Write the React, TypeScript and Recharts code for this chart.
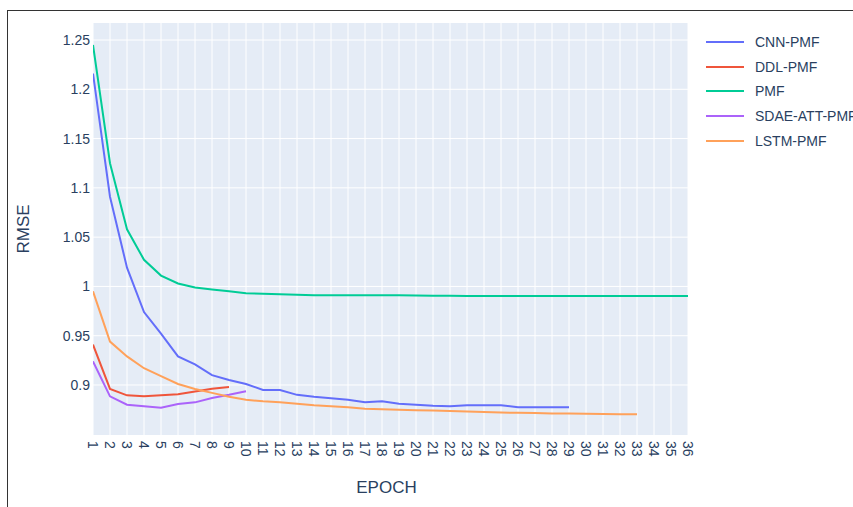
import React from 'react';
import { LineChart, Line, XAxis, YAxis, CartesianGrid, Label } from 'recharts';

const epochs = [1, 2, 3, 4, 5, 6, 7, 8, 9, 10, 11, 12, 13, 14, 15, 16, 17, 18, 19, 20, 21, 22, 23, 24, 25, 26, 27, 28, 29, 30, 31, 32, 33, 34, 35, 36];

const cnnPmf = [1.216, 1.091, 1.019, 0.974, 0.952, 0.929, 0.921, 0.910, 0.905, 0.901, 0.895, 0.895, 0.890, 0.888, 0.8865, 0.885, 0.8825, 0.8835, 0.881, 0.880, 0.879, 0.8785, 0.8795, 0.8795, 0.8795, 0.8775, 0.8775, 0.8775, 0.8775];
const ddlPmf = [0.941, 0.896, 0.8895, 0.8885, 0.8895, 0.8905, 0.8935, 0.8963, 0.898];
const pmf = [1.245, 1.125, 1.058, 1.027, 1.011, 1.003, 0.999, 0.997, 0.995, 0.993, 0.9925, 0.992, 0.9915, 0.991, 0.991, 0.991, 0.991, 0.991, 0.991, 0.9908, 0.9906, 0.9905, 0.9903, 0.9903, 0.9903, 0.9903, 0.9903, 0.9903, 0.9903, 0.9903, 0.9903, 0.9903, 0.9903, 0.9903, 0.9903, 0.9903];
const sdaeAttPmf = [0.924, 0.8885, 0.880, 0.8785, 0.877, 0.8807, 0.8824, 0.8868, 0.890, 0.8936];
const lstmPmf = [0.995, 0.944, 0.929, 0.917, 0.909, 0.901, 0.896, 0.892, 0.888, 0.885, 0.8835, 0.8825, 0.881, 0.8795, 0.8785, 0.8775, 0.876, 0.8755, 0.875, 0.8745, 0.874, 0.8735, 0.873, 0.8725, 0.872, 0.8718, 0.8715, 0.8712, 0.871, 0.8708, 0.8706, 0.8704, 0.8703];

const yTicks = [0.9, 0.95, 1, 1.05, 1.1, 1.15, 1.2, 1.25];
const yTickLabels = ['0.9', '0.95', '1', '1.05', '1.1', '1.15', '1.2', '1.25'];

const seriesNames = ['CNN-PMF', 'DDL-PMF', 'PMF', 'SDAE-ATT-PMF', 'LSTM-PMF'];
const seriesKeys = ['cnn', 'ddl', 'pmf', 'sdae', 'lstm'];
const seriesValues = [cnnPmf, ddlPmf, pmf, sdaeAttPmf, lstmPmf];
const colors = ['#636efa', '#EF553B', '#00cc96', '#ab63fa', '#FFA15A'];

const data = epochs.map((e, i) => {
  const row: Record<string, number | undefined> = { epoch: e };
  seriesKeys.forEach((k, s) => {
    row[k] = seriesValues[s][i];
  });
  return row;
});

const FONT = '"Liberation Sans", Arial, Helvetica, sans-serif';
const TEXT_COLOR = '#2a3f5f';

const XTick = (props: any) => {
  const { x, y, payload } = props;
  return (
    <text
      x={x}
      y={y}
      transform={`rotate(90, ${x}, ${y})`}
      textAnchor="start"
      dominantBaseline="central"
      fontSize={14}
      fontFamily={FONT}
      fill={TEXT_COLOR}
    >
      {payload.value}
    </text>
  );
};

const YTick = (props: any) => {
  const { x, y, payload } = props;
  const idx = yTicks.indexOf(payload.value);
  return (
    <text
      x={x}
      y={y}
      textAnchor="end"
      dominantBaseline="central"
      fontSize={14}
      fontFamily={FONT}
      fill={TEXT_COLOR}
    >
      {idx >= 0 ? yTickLabels[idx] : String(payload.value)}
    </text>
  );
};

const YTitle = (props: any) => {
  const vb = props.viewBox || {};
  const cx = (vb.x || 0) + 23;
  const cy = (vb.y || 0) + (vb.height || 0) / 2;
  return (
    <text
      x={cx}
      y={cy}
      transform={`rotate(-90, ${cx}, ${cy})`}
      textAnchor="middle"
      dominantBaseline="central"
      fontSize={17}
      fontFamily={FONT}
      fill={TEXT_COLOR}
    >
      RMSE
    </text>
  );
};

const XTitle = (props: any) => {
  const vb = props.viewBox || {};
  const cx = (vb.x || 0) + (vb.width || 0) / 2 - 4;
  const cy = (vb.y || 0) + 52;
  return (
    <text
      x={cx}
      y={cy}
      textAnchor="middle"
      dominantBaseline="central"
      fontSize={17}
      fontFamily={FONT}
      fill={TEXT_COLOR}
    >
      EPOCH
    </text>
  );
};

export default function App() {
  return (
    <div
      style={{
        position: 'absolute',
        left: 0,
        top: 0,
        width: 853,
        height: 507,
        overflow: 'hidden',
        background: '#ffffff',
        fontFamily: FONT,
      }}
    >
      <div style={{ position: 'absolute', left: 7, top: 10, width: 846, height: 0, borderTop: '1.5px solid #333' }} />
      <div style={{ position: 'absolute', left: 7, top: 10, width: 0, height: 497, borderLeft: '1.5px solid #333' }} />
      <div style={{ position: 'absolute', left: 0, top: 0 }}>
        <LineChart
          width={853}
          height={507}
          data={data}
          margin={{ top: 23, right: 165, bottom: 0, left: 0 }}
        >
          <CartesianGrid
            fill="#E5ECF6"
            stroke="#ffffff"
            strokeWidth={1}
            horizontalValues={yTicks}
            verticalValues={epochs}
          />
          <XAxis
            dataKey="epoch"
            type="number"
            domain={[1, 36]}
            ticks={epochs}
            interval={0}
            allowDataOverflow
            height={72}
            axisLine={false}
            tickLine={false}
            tickSize={0}
            tickMargin={6}
            tick={<XTick />}
          >
            <Label content={<XTitle />} />
          </XAxis>
          <YAxis
            type="number"
            domain={[0.84927, 1.26725]}
            ticks={yTicks}
            interval={0}
            allowDataOverflow
            width={93}
            axisLine={false}
            tickLine={false}
            tickSize={0}
            tickMargin={3}
            tick={<YTick />}
          >
            <Label content={<YTitle />} />
          </YAxis>
          {seriesKeys.map((k, s) => (
            <Line
              key={k}
              dataKey={k}
              name={seriesNames[s]}
              type="linear"
              stroke={colors[s]}
              strokeWidth={2}
              dot={false}
              activeDot={false}
              isAnimationActive={false}
            />
          ))}
        </LineChart>
      </div>
      {seriesNames.map((n, s) => (
        <div
          key={n}
          style={{
            position: 'absolute',
            left: 706,
            top: 42 + s * 24.7 - 10,
            height: 20,
            display: 'flex',
            alignItems: 'center',
            whiteSpace: 'nowrap',
          }}
        >
          <div style={{ width: 38, height: 2, background: colors[s] }} />
          <span style={{ marginLeft: 11, fontSize: 14, color: TEXT_COLOR, fontFamily: FONT }}>{n}</span>
        </div>
      ))}
    </div>
  );
}
